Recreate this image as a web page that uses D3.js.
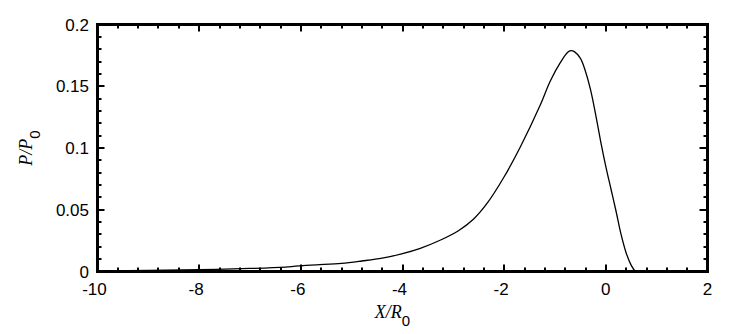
<!DOCTYPE html>
<html>
<head>
<meta charset="utf-8">
<script src="https://cdn.jsdelivr.net/npm/d3@7"></script>
<style>
  html, body { margin: 0; padding: 0; background: #fff; }
  svg { display: block; }
  .lbl { font-family: "Liberation Sans", Arial, sans-serif; font-size: 17px; fill: #000; }
</style>
</head>
<body>
<svg id="chart" width="747" height="334"></svg>
<script>
// ---- data ----
const xValues = [-10, -9, -8, -7, -6.3, -5.8, -5.2, -4.8, -4.4, -4.0, -3.65, -3.25, -2.9, -2.6, -2.33, -2.0, -1.68, -1.29, -1.09, -0.89, -0.75, -0.69, -0.62, -0.5, -0.4, -0.3, -0.2, -0.1, 0.0, 0.1, 0.2, 0.3, 0.4, 0.5, 0.58];
const pValues = [0.0005, 0.0009, 0.0015, 0.0025, 0.0036, 0.0052, 0.0066, 0.0085, 0.0108, 0.0145, 0.0188, 0.0255, 0.033, 0.0425, 0.0555, 0.0767, 0.101, 0.1348, 0.1545, 0.1695, 0.1775, 0.1788, 0.178, 0.1725, 0.162, 0.147, 0.127, 0.105, 0.085, 0.067, 0.049, 0.030, 0.015, 0.005, 0];
const xMajorTicks = [-10, -8, -6, -4, -2, 0, 2];
const yMajorTicks = [0, 0.05, 0.1, 0.15, 0.2];
const yTickLabels = ["0", "0.05", "0.1", "0.15", "0.2"];
const xDomain = [-10, 2];
const yDomain = [0, 0.2];

(function () {
const svg = d3.select("#chart");
const pL = 97.5, pR = 707.5, pT = 24.5, pB = 271.5;

const x = d3.scaleLinear().domain(xDomain).range([pL, pR]);
const y = d3.scaleLinear().domain(yDomain).range([pB, pT]);

const xMinor = d3.range(-10, 2.0001, 0.4).map(v => +v.toFixed(2)).filter(v => !xMajorTicks.some(m => Math.abs(m - v) < 1e-6));
const yMinor = d3.range(0, 0.2001, 0.01).map(v => +v.toFixed(3)).filter(v => !yMajorTicks.some(m => Math.abs(m - v) < 1e-6));

const ticks = svg.append("g").attr("stroke", "#000").attr("stroke-width", 2);
function xTicks(vals, len) {
  vals.forEach(v => {
    const px = Math.round(x(v));
    ticks.append("line").attr("x1", px).attr("x2", px).attr("y1", pB).attr("y2", pB - len);
    ticks.append("line").attr("x1", px).attr("x2", px).attr("y1", pT).attr("y2", pT + len);
  });
}
function yTicks(vals, lenL, lenR) {
  vals.forEach(v => {
    const py = Math.round(y(v));
    ticks.append("line").attr("y1", py).attr("y2", py).attr("x1", pL).attr("x2", pL + lenL);
    ticks.append("line").attr("y1", py).attr("y2", py).attr("x1", pR).attr("x2", pR - lenR);
  });
}
xTicks(xMajorTicks, 7);
xTicks(xMinor, 4);
yTicks(yMajorTicks, 7, 8);
yTicks(yMinor, 4, 4);

// tick labels
svg.append("g").selectAll("text").data(xMajorTicks).join("text")
  .attr("class", "lbl")
  .attr("x", d => x(d) + (d < 0 ? -3 : 0))
  .attr("y", 295)
  .attr("text-anchor", "middle")
  .text(d => String(d));
svg.append("g").selectAll("text").data(yMajorTicks).join("text")
  .attr("class", "lbl")
  .attr("x", 89)
  .attr("y", d => y(d) + 6)
  .attr("text-anchor", "end")
  .text((d, i) => yTickLabels[i]);

// frame
svg.append("rect")
  .attr("x", pL).attr("y", pT)
  .attr("width", pR - pL).attr("height", pB - pT)
  .attr("fill", "none").attr("stroke", "#000").attr("stroke-width", 3);

// curve
const pts = xValues.map((v, i) => [v, pValues[i]]);
svg.append("path")
  .datum(pts)
  .attr("fill", "none")
  .attr("stroke", "#000")
  .attr("stroke-width", 1.3)
  .attr("d", d3.line().x(d => x(d[0])).y(d => y(d[1])).curve(d3.curveCatmullRom.alpha(0.5)));

// axis titles
const xt = svg.append("text")
  .attr("x", (pL + pR) / 2 - 10).attr("y", 318)
  .attr("text-anchor", "middle")
  .style("font-family", "'Liberation Serif', 'Times New Roman', serif")
  .style("font-size", "18px").style("font-style", "italic");
xt.append("tspan").text("X/R");
xt.append("tspan").attr("dy", 8).style("font-style", "normal")
  .style("font-family", "'Liberation Sans', Arial, sans-serif").style("font-size", "15px").text("0");

const yt = svg.append("text")
  .attr("transform", `translate(32,${(pT + pB) / 2}) rotate(-90)`)
  .attr("text-anchor", "middle")
  .style("font-family", "'Liberation Serif', 'Times New Roman', serif")
  .style("font-size", "18px").style("font-style", "italic");
yt.append("tspan").text("P/P");
yt.append("tspan").attr("dy", 8).style("font-style", "normal")
  .style("font-family", "'Liberation Sans', Arial, sans-serif").style("font-size", "15px").text("0");
})();
</script>
</body>
</html>
